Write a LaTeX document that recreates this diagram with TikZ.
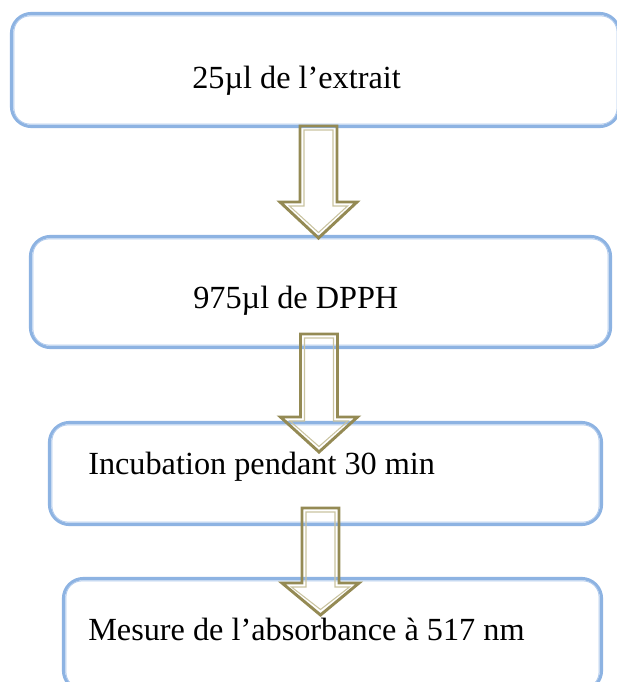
\documentclass[tikz,border=0pt]{standalone}
\usepackage{fontspec}
\setmainfont{Liberation Serif}
\definecolor{boxblue}{HTML}{8DB3E2}
\definecolor{boxblueinner}{HTML}{B0CAEC}
\definecolor{arrowolive}{HTML}{948A54}
\definecolor{arrowinner}{HTML}{C9C3A0}
\tikzset{
  x=0.75pt, y=-0.75pt,
  stepbox/.style={draw=boxblue, line width=2.4pt, rounded corners=15pt, rectangle, inner sep=0pt},
  innerline/.style={draw=boxblueinner, line width=0.7pt, rounded corners=12pt},
  label/.style={anchor=base west, inner sep=0pt, font=\fontsize{24.2}{29}\selectfont},
  pics/downarrow/.style args={#1/#2}{code={
    \draw[draw=arrowolive, line width=2.2pt, line join=miter]
      (-18.5,0) -- (18.5,0) -- (18.5,#1) -- (38.5,#1) -- (0,#2) -- (-38.5,#1) -- (-18.5,#1) -- cycle;
    \draw[draw=arrowinner, line width=0.8pt, line join=miter]
      (-14.5,4) -- (14.5,4) -- (14.5,#1+4) -- (29,#1+4) -- (0,#2-5.5) -- (-29,#1+4) -- (-14.5,#1+4) -- cycle;
  }}
}
\begin{document}
\begin{tikzpicture}
\useasboundingbox (0,0) rectangle (617,682);
\clip (0,0) rectangle (617,682);
% boxes
\node[stepbox, minimum width=608*0.75pt, minimum height=113*0.75pt] (b1) at (315.5,70) {};
\node[stepbox, minimum width=580*0.75pt, minimum height=111*0.75pt] (b2) at (320.5,292) {};
\node[stepbox, minimum width=552*0.75pt, minimum height=102*0.75pt] (b3) at (325.5,473.5) {};
\node[stepbox, minimum width=538*0.75pt, minimum height=112*0.75pt] (b4) at (332.5,634.5) {};
\foreach \b in {b1,b2,b3,b4}{
  \draw[innerline] ([shift={(4,4)}]\b.north west) rectangle ([shift={(-4,-4)}]\b.south east);
}
% texts
\node[label] (t1) at (192,88) {25µl de l’extrait};
\node[label] (t2) at (193,308) {975µl de DPPH};
\node[label] (t3) at (88,474) {Incubation pendant 30 min};
\node[label] (t4) at (88,640) {Mesure de l’absorbance à 517 nm};
% arrows between boxes
\coordinate (a1) at (318.5,126);
\coordinate (a2) at (319,334);
\coordinate (a3) at (320.5,508);
\pic at (a1) {downarrow={76/112}};
\pic at (a2) {downarrow={83/118}};
\pic at (a3) {downarrow={75/107}};
\end{tikzpicture}
\end{document}
